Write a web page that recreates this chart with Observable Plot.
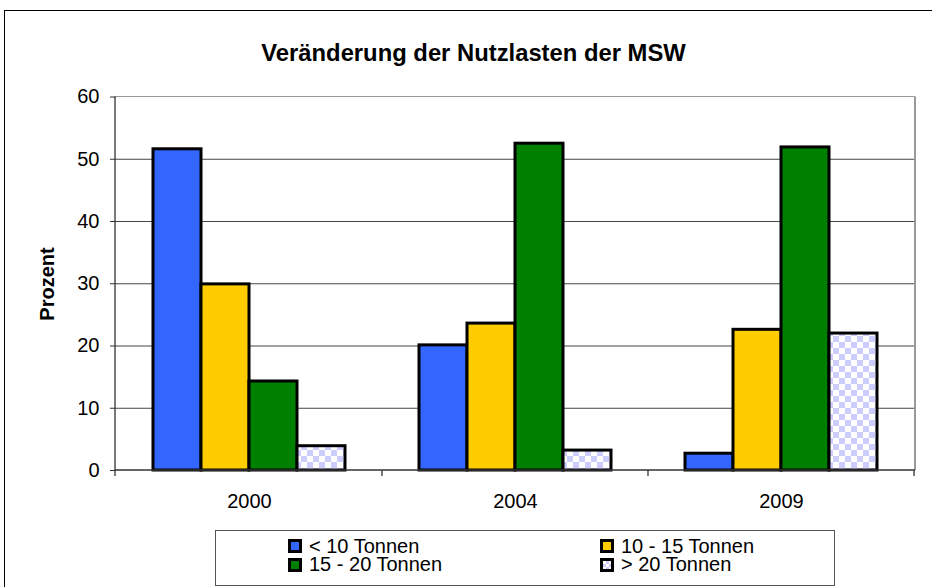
<!DOCTYPE html>
<html>
<head>
<meta charset="utf-8">
<script src="https://cdn.jsdelivr.net/npm/d3@7"></script>
<script src="https://cdn.jsdelivr.net/npm/@observablehq/plot@0.6"></script>
<style>
html, body { margin: 0; padding: 0; background: #fff; overflow: hidden; }
#wrap { position: relative; width: 932px; height: 587px; font-family: Arial, "Liberation Sans", sans-serif; color: #000; }
#frame { position: absolute; left: 4px; top: 10px; width: 980px; height: 640px; border: 1.5px solid #000; box-sizing: border-box; }
#title { position: absolute; left: 0; width: 947px; top: 41px; text-align: center; font-weight: bold; font-size: 23.8px; line-height: 23.8px; white-space: nowrap; }
#ylabel { position: absolute; left: 47px; top: 284px; font-weight: bold; font-size: 20px; line-height: 20px; white-space: nowrap; transform: translate(-50%, -50%) rotate(-90deg); }
#chart { position: absolute; left: 0; top: 0; }
#legend { position: absolute; left: 215px; top: 530px; width: 620px; height: 56px; border: 1px solid #555; box-sizing: border-box; background: #fff; }
.col { position: absolute; font-size: 20px; line-height: 18.7px; white-space: pre; }
.sw { position: absolute; width: 14px; height: 14px; border: 3px solid #000; box-sizing: border-box; }
</style>
</head>
<body>
<div id="wrap">
  <div id="frame"></div>
  <div id="chart"></div>
  <div id="title">Veränderung der Nutzlasten der MSW</div>
  <div id="ylabel">Prozent</div>
  <div id="legend"></div>
</div>
<script>
// ---- data ----
const years = ["2000", "2004", "2009"];
const series = ["< 10 Tonnen", "10 - 15 Tonnen", "15 - 20 Tonnen", "> 20 Tonnen"];
const values2000 = [51.6, 29.9, 14.3, 3.9];
const values2004 = [20.1, 23.6, 52.5, 3.2];
const values2009 = [2.7, 22.6, 51.9, 22.0];
const seriesColors = ["#3366ff", "#ffcc00", "#008000", "url(#checker)"];
const legendColors = ["#3366ff", "#ffcc00", "#008000", "repeating-conic-gradient(#ccccff 0 25%, #ffffff 0 50%) 0 0 / 6px 6px"];
const yTicks = [0, 10, 20, 30, 40, 50, 60];
const yDomain = [0, 60];

const valuesByYear = [values2000, values2004, values2009];
const rows = years.flatMap((yr, i) => series.map((s, j) => ({year: yr, series: s, value: valuesByYear[i][j]})));

const chart = Plot.plot({
  width: 932,
  height: 520,
  marginLeft: 115,
  marginRight: 17,
  marginTop: 96.5,
  marginBottom: 50,
  style: {fontFamily: "Arial, 'Liberation Sans', sans-serif", fontSize: "20px", color: "#000", background: "transparent", overflow: "visible"},
  fx: {domain: years, padding: 0, label: null},
  x: {domain: series, paddingInner: 0, paddingOuter: 0.72, axis: null},
  y: {domain: yDomain, label: null},
  color: {domain: series, range: seriesColors},
  marks: [
    Plot.gridY({ticks: yTicks.slice(1, -1), stroke: "#444", strokeOpacity: 1, strokeWidth: 1}),
    Plot.barY(rows, {fx: "year", x: "series", y: "value", fill: "series", stroke: "#000", strokeWidth: 3}),
    Plot.axisY({ticks: yTicks, tickSize: 6, tickPadding: 11, label: null, stroke: "#333", fill: "#000", fontSize: 20}),
    Plot.axisFx({anchor: "bottom", tickSize: 0, tickPadding: 23, label: null, fill: "#000", fontSize: 20})
  ]
});

// decorations drawn from the chart's own scales: pattern, plot border, axis lines, category boundary ticks
const svg = d3.select(chart);
const fxS = chart.scale("fx");
const yS = chart.scale("y");
const x0 = 115, x1 = 932 - 17;
const yb = yS.apply(yDomain[0]), yt = yS.apply(yDomain[1]);
const pat = svg.insert("defs", ":first-child").append("pattern")
  .attr("id", "checker").attr("patternUnits", "userSpaceOnUse")
  .attr("width", 12).attr("height", 12);
pat.append("rect").attr("width", 12).attr("height", 12).attr("fill", "#ffffff");
pat.append("rect").attr("width", 6).attr("height", 6).attr("fill", "#ccccff");
pat.append("rect").attr("x", 6).attr("y", 6).attr("width", 6).attr("height", 6).attr("fill", "#ccccff");
const g = svg.append("g");
g.append("line").attr("x1", x0).attr("x2", x1).attr("y1", yt).attr("y2", yt).attr("stroke", "#999").attr("stroke-width", 1.2);
g.append("line").attr("x1", x1).attr("x2", x1).attr("y1", yt).attr("y2", yb).attr("stroke", "#999").attr("stroke-width", 2);
g.append("line").attr("x1", x0).attr("x2", x0).attr("y1", yt).attr("y2", yb + 6).attr("stroke", "#333").attr("stroke-width", 1.3);
g.append("line").attr("x1", x0).attr("x2", x1).attr("y1", yb).attr("y2", yb).attr("stroke", "#333").attr("stroke-width", 1.3);
years.forEach(yr => {
  const xr = fxS.apply(yr) + fxS.bandwidth;
  g.append("line").attr("x1", xr).attr("x2", xr).attr("y1", yb).attr("y2", yb + 6).attr("stroke", "#333").attr("stroke-width", 1.3);
});
document.getElementById("chart").appendChild(chart);

// legend: two columns, two rows
const legend = document.getElementById("legend");
const colX = [288, 600], rowTop = [539, 557.7];
[0, 1].forEach(c => {
  const col = document.createElement("div");
  col.className = "col";
  col.style.left = (colX[c] + 21 - 215 - 1) + "px";
  col.style.top = (rowTop[0] + 14 - 16.3 - 530 - 1) + "px";
  col.textContent = series.filter((s, i) => i % 2 === c).join("\n");
  legend.appendChild(col);
});
series.forEach((s, i) => {
  const c = i % 2, r = Math.floor(i / 2);
  const sw = document.createElement("div");
  sw.className = "sw";
  sw.style.left = (colX[c] - 215 - 1) + "px";
  sw.style.top = (rowTop[r] - 530 - 1) + "px";
  sw.style.background = legendColors[i];
  legend.appendChild(sw);
});
</script>
</body>
</html>
